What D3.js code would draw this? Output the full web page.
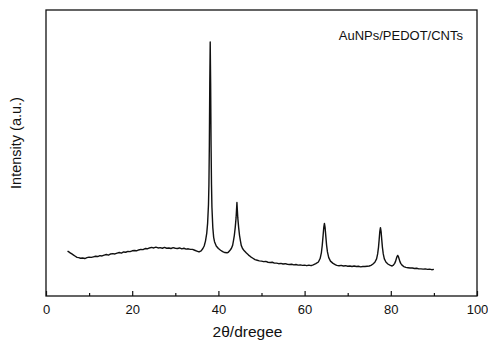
<!DOCTYPE html>
<html>
<head>
<meta charset="utf-8">
<script src="https://cdn.jsdelivr.net/npm/d3@7"></script>
<style>
  body { margin: 0; background: #fff; }
  text { font-family: "Liberation Sans", Arial, sans-serif; fill: #111; }
</style>
</head>
<body>
<svg width="488" height="340"></svg>
<script>
// XRD pattern: [2theta, intensity (a.u.)]
let xrd = [
  [5.0,157],[5.3,154],[5.6,151],[6.0,147],[6.4,143],[6.8,139],[7.2,135],[7.6,134],[8.0,132],[8.5,133],
  [9.0,131],[9.5,134],[10.0,136],[10.5,135],[11.0,137],[11.5,139],[12.0,138],[12.5,141],[13.0,140],[13.5,143],
  [14.0,145],[14.5,143],[15.0,147],[15.5,148],[16.0,147],[16.5,150],[17.0,152],[17.5,150],[18.0,154],[18.5,153],
  [19.0,156],[19.5,155],[20.0,158],[20.5,159],[21.0,158],[21.5,161],[22.0,163],[22.5,162],[23.0,166],[23.5,165],
  [24.0,168],[24.5,170],[25.0,168],[25.5,171],[26.0,168],[26.5,169],[27.0,167],[27.5,170],[28.0,167],[28.5,168],
  [29.0,166],[29.5,169],[30.0,167],[30.5,166],[31.0,168],[31.5,165],[32.0,167],[32.5,164],[33.0,165],[33.5,163],
  [34.0,163],[34.5,160],[35.0,157],[35.5,154],[36.0,158],[36.4,166],[36.7,175],[37.0,192],[37.3,220],[37.5,255],
  [37.7,320],[37.8,389],[37.9,527],[38.0,743],[38.1,888],[38.2,743],[38.3,527],[38.4,389],[38.5,310],[38.7,240],
  [38.9,205],[39.1,190],[39.5,175],[40.0,166],[40.5,160],[41.0,155],[41.5,152],[42.0,151],[42.3,153],[42.7,160],
  [43.0,166],[43.3,177],[43.5,194],[43.7,212],[43.9,239],[44.1,273],[44.2,300],[44.3,327],[44.4,300],[44.5,273],
  [44.7,239],[44.9,212],[45.1,194],[45.3,177],[45.6,166],[46.0,158],[46.5,150],[47.0,143],[47.5,137],[48.0,132],
  [48.5,127],[49.0,125],[49.5,123],[50.0,122],[50.5,120],[51.0,121],[51.5,118],[52.0,117],[52.5,118],[53.0,115],
  [53.5,115],[54.0,113],[54.5,114],[55.0,112],[55.5,113],[56.0,111],[56.5,110],[57.0,111],[57.5,109],[58.0,110],
  [58.5,108],[59.0,109],[59.5,107],[60.0,108],[60.5,106],[61.0,108],[61.5,106],[62.0,109],[62.6,113],[63.2,119],
  [63.6,131],[63.9,152],[64.1,178],[64.3,213],[64.45,240],[64.6,254],[64.75,240],[64.9,213],[65.1,178],[65.3,154],
  [65.6,134],[66.0,122],[66.6,114],[67.2,109],[67.5,107],[68.0,106],[68.5,107],[69.0,105],[69.5,106],[70.0,104],
  [70.5,105],[71.0,103],[71.5,105],[72.0,103],[72.5,104],[73.0,102],[73.5,103],[74.0,103],[74.5,104],[75.0,105],
  [75.4,107],[75.8,111],[76.3,118],[76.7,130],[76.95,147],[77.15,171],[77.3,197],[77.45,225],[77.6,239],[77.75,225],
  [77.9,197],[78.05,171],[78.25,147],[78.5,130],[78.9,118],[79.4,111],[79.9,107],[80.3,105],[80.6,108],[80.9,114],
  [81.1,121],[81.3,131],[81.45,138],[81.6,142],[81.75,138],[81.9,131],[82.1,121],[82.3,114],[82.6,108],[83.0,103],
  [83.5,100],[84.0,99],[84.5,98],[85.0,98],[85.5,96],[86.0,97],[86.5,95],[87.0,95],[87.5,94],[88.0,95],
  [88.5,93],[89.0,94],[89.5,92],[90.0,93]
];

let majorTicks = [0, 20, 40, 60, 80, 100];
let minorTicks = [10, 30, 50, 70, 90];
let sampleName = "AuNPs/PEDOT/CNTs";

let margin = { left: 46, top: 10, right: 11, bottom: 44 };
let width = 488, height = 340;

let svg = d3.select("svg");

let x = d3
  .scaleLinear()
  .domain([0, 100])
  .range([margin.left, width - margin.right]);

let y = d3
  .scaleLinear()
  .domain([0, 1000])
  .range([height - margin.bottom, margin.top]);

// ticks point inward
svg.append("g")
  .attr("transform", "translate(0," + (height - margin.bottom) + ")")
  .call(d3.axisBottom(x).tickValues(majorTicks).tickSize(-5).tickPadding(9).tickFormat(d3.format("d")))
  .call(g => g.select(".domain").remove())
  .call(g => g.selectAll("line").attr("stroke", "#111").attr("stroke-width", 1.2))
  .call(g => g.selectAll("text").style("font-size", "13px").attr("fill", "#111"));

svg.append("g")
  .attr("transform", "translate(0," + (height - margin.bottom) + ")")
  .call(d3.axisBottom(x).tickValues(minorTicks).tickSize(-3).tickFormat(""))
  .call(g => g.select(".domain").remove())
  .call(g => g.selectAll("line").attr("stroke", "#111").attr("stroke-width", 1.2));

svg.append("rect")
  .attr("x", margin.left)
  .attr("y", margin.top)
  .attr("width", width - margin.left - margin.right)
  .attr("height", height - margin.top - margin.bottom)
  .attr("fill", "none")
  .attr("stroke", "#111")
  .attr("stroke-width", 1.3);

let line = d3
  .line()
  .x(d => x(d[0]))
  .y(d => y(d[1]));

svg.append("path")
  .datum(xrd)
  .attr("d", line)
  .attr("fill", "none")
  .attr("stroke", "#111")
  .attr("stroke-width", 1.4)
  .attr("stroke-linejoin", "round");

svg.append("text")
  .attr("x", 463)
  .attr("y", 40)
  .attr("text-anchor", "end")
  .style("font-size", "13px")
  .text(sampleName);

svg.append("text")
  .attr("x", (x(0) + x(100)) / 2 - 14)
  .attr("y", 337)
  .attr("text-anchor", "middle")
  .style("font-size", "15.5px")
  .text("2θ/dregee");

svg.append("text")
  .attr("transform", "translate(21,143) rotate(-90)")
  .attr("text-anchor", "middle")
  .style("font-size", "14.5px")
  .text("Intensity (a.u.)");
</script>
</body>
</html>
